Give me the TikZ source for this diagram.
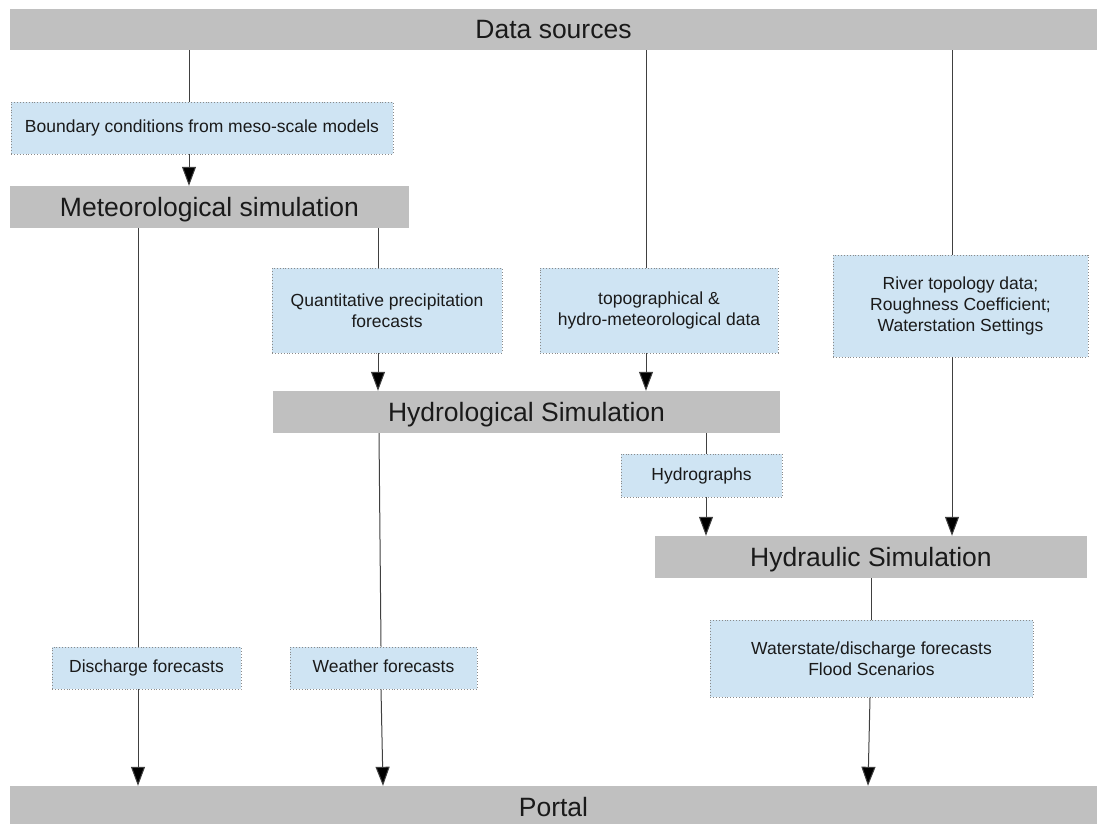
\documentclass[tikz,border=0pt]{standalone}
\usepackage{fontspec}
\setmainfont{Liberation Sans}
\usetikzlibrary{arrows.meta}

\definecolor{barfill}{HTML}{C0C0C0}
\definecolor{infofill}{HTML}{CFE4F3}
\definecolor{infoedge}{HTML}{8A8A8A}
\definecolor{linkcol}{HTML}{404040}
\definecolor{txt}{HTML}{1A1A1A}

\tikzset{
  stagebar/.style={rectangle, fill=barfill, inner sep=0pt, text=txt,
    text height=19pt, text depth=1pt,
    font=\fontsize{26.5}{30}\selectfont},
  infobox/.style={rectangle, fill=infofill, draw=infoedge, dotted, line width=0.9pt,
    inner sep=0pt, text=txt, align=center,
    font=\fontsize{17.5}{21}\selectfont},
  oneline/.style={text height=13pt, text depth=4pt},
  link/.style={draw=linkcol, line width=1pt},
  flow/.style={link, -{Triangle[length=19pt,width=14pt,fill=black]}}
}

\begin{document}
\begin{tikzpicture}[x=1pt,y=-1pt]
\useasboundingbox (0,0) rectangle (1097,824);

% main stages
\node[stagebar, minimum width=1087pt, minimum height=41pt] (data) at (553.5,29.5) {Data sources};
\node[stagebar, minimum width=399pt, minimum height=42pt] (met) at (209.5,207) {Meteorological simulation};
\node[stagebar, minimum width=507pt, minimum height=42pt] (hydro) at (526.5,412) {Hydrological Simulation};
\node[stagebar, minimum width=432pt, minimum height=42pt] (hydraulic) at (871,557) {Hydraulic Simulation};
\node[stagebar, minimum width=1087pt, minimum height=42pt] (portal) at (553.5,807) {Portal};

% exchanged data products
\node[infobox, oneline, minimum width=382pt, minimum height=52pt] (bound) at (202,128) {Boundary conditions from meso-scale models};
\node[infobox, minimum width=230pt, minimum height=85pt] (qpf) at (387,310.5) {Quantitative precipitation\\forecasts};
\node[infobox, minimum width=238pt, minimum height=85pt] (topo) at (659,310.5) {topographical \&\\hydro-meteorological data};
\node[infobox, minimum width=255pt, minimum height=102pt] (river) at (960.5,306) {River topology data;\\Roughness Coefficient;\\Waterstation Settings};
\node[infobox, oneline, minimum width=161pt, minimum height=43pt] (hgraph) at (701.5,475.5) {Hydrographs};
\node[infobox, oneline, minimum width=189pt, minimum height=42pt] (dis) at (146.5,668) {Discharge forecasts};
\node[infobox, oneline, minimum width=187pt, minimum height=42pt] (weather) at (383.5,668) {Weather forecasts};
\node[infobox, minimum width=323pt, minimum height=77pt] (wstate) at (871.5,658.5) {Waterstate/discharge forecasts\\Flood Scenarios};

% data sources feeding the models
\draw[link] (data.south -| 189,0) -- (bound.north -| 189,0);
\draw[flow] (bound.south -| 189,0) -- (met.north -| 189,0);
\draw[link] (data.south -| 646,0) -- (topo.north -| 646,0);
\draw[flow] (topo.south -| 646,0) -- (hydro.north -| 646,0);
\draw[link] (data.south -| 952,0) -- (river.north -| 952,0);
\draw[flow] (river.south -| 952,0) -- (hydraulic.north -| 952,0);

% meteorological outputs
\draw[link] (met.south -| 138,0) -- (dis.north -| 138,0);
\draw[flow] (dis.south -| 138,0) -- (portal.north -| 138,0);
\draw[link] (met.south -| 378,0) -- (qpf.north -| 378,0);
\draw[flow] (qpf.south -| 378,0) -- (hydro.north -| 378,0);

% hydrological outputs
\draw[link] (hydro.south -| 379,0) -- (weather.north -| 381,0);
\draw[flow] (weather.south -| 381,0) -- (portal.north -| 383,0);
\draw[link] (hydro.south -| 706,0) -- (hgraph.north -| 706,0);
\draw[flow] (hgraph.south -| 706,0) -- (hydraulic.north -| 706,0);

% hydraulic outputs
\draw[link] (hydraulic.south -| 871,0) -- (wstate.north -| 871,0);
\draw[flow] (wstate.south -| 870,0) -- (portal.north -| 868,0);
\end{tikzpicture}
\end{document}
